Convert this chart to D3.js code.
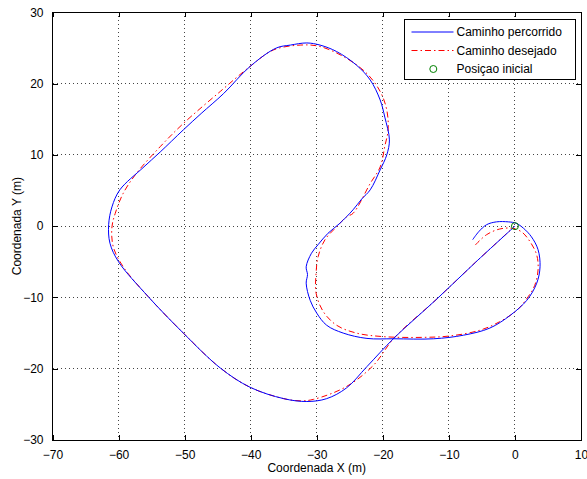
<!DOCTYPE html>
<html><head><meta charset="utf-8">
<script src="https://cdn.jsdelivr.net/npm/d3@7"></script>
<style>
html,body{margin:0;padding:0;background:#fff;}
text{font-family:"Liberation Sans",Arial,sans-serif;}
</style></head>
<body><svg id="c" width="587" height="479"></svg>
<script>
const xTicks = [-70,-60,-50,-40,-30,-20,-10,0,10];
const yTicks = [-30,-20,-10,0,10,20,30];
const xLabel = "Coordenada X (m)";
const yLabel = "Coordenada Y (m)";
const legendLabels = ["Caminho percorrido","Caminho desejado","Posiçao inicial"];

const percorridoX = [-6.4,-5.5,-4.3,-2.8,-1.0,0.2,1.3,2.5,3.5,3.8,3.3,1.8,-0.7,-3.8,-7.8,-12.3,-18.3,-22.4,-26.0,-28.5,-30.0,-31.0,-31.6,-31.4,-31.6,-30.8,-29.8,-28.3,-26.5,-24.5,-23.2,-21.9,-20.4,-19.4,-19.0,-19.7,-20.4,-21.9,-24.0,-27.0,-29.5,-31.5,-34.0,-36.1,-40.1,-44.1,-47.5,-50.2,-53.7,-56.3,-59.8,-61.0,-61.5,-61.3,-60.0,-55.5,-50.2,-44.6,-40.1,-35.0,-31.5,-28.5,-25.5,-22.4,-18.3,-11.8,-6.0,0.0];
const percorridoY = [-1.9,-0.8,0.2,0.6,0.6,0.4,-0.3,-1.5,-3.3,-5.7,-8.0,-10.4,-12.5,-14.3,-15.3,-15.8,-15.8,-15.75,-15.0,-13.9,-12.2,-10.4,-8.0,-6.8,-5.7,-3.8,-2.6,-1.0,0.4,2.3,3.8,5.1,7.9,10.0,12.1,15.3,17.7,20.5,22.6,24.5,25.4,25.7,25.4,25.0,22.4,18.6,15.8,13.5,10.4,8.2,5.1,2.7,0.2,-2.4,-5.0,-9.9,-15.0,-19.9,-22.6,-24.2,-24.6,-24.2,-22.7,-19.7,-15.7,-10.2,-5.1,0.0];

const desejadoX = [-6.0,-4.3,-2.3,-0.5,1.0,2.3,3.3,3.5,3.0,2.0,0.3,-2.3,-5.3,-9.8,-13.9,-19.9,-24.0,-27.0,-29.0,-30.1,-30.1,-29.8,-28.75,-27.0,-25.5,-24.5,-21.9,-20.4,-19.7,-19.2,-19.4,-20.4,-22.4,-25.5,-29.5,-32.5,-36.6,-40.1,-44.6,-50.2,-53.7,-57.3,-59.3,-60.5,-61.0,-60.8,-59.3,-55.5,-50.2,-44.6,-40.1,-35.0,-32.5,-30.5,-25.5,-21.4,-18.3,-11.8,-6.0,-0.5];
const desejadoY = [-2.65,-1.2,-0.4,-0.3,-0.8,-2.2,-4.05,-6.15,-8.3,-9.9,-11.8,-13.4,-14.6,-15.4,-15.6,-15.5,-15.0,-13.9,-12.0,-9.4,-6.6,-4.3,-1.9,-0.1,1.3,1.8,6.0,8.3,11.2,13.5,16.3,18.9,21.4,23.55,25.2,25.4,24.7,22.4,18.9,14.4,11.15,7.4,4.6,1.8,-0.1,-2.9,-5.7,-9.9,-15.0,-19.9,-22.6,-24.2,-24.5,-24.3,-22.5,-19.5,-15.7,-10.2,-5.1,-0.4];

const inicialX = [0];
const inicialY = [0];

const svg = d3.select("#c");
const L = 52.5, R = 581, T = 12.3, B = 440;
const x = d3.scaleLinear().domain([-70,10]).range([L,R]);
const y = d3.scaleLinear().domain([-30,30]).range([B,T]);

// grid
const g = svg.append("g");
g.selectAll(".gx").data(xTicks.slice(1,-1)).join("line")
  .attr("x1",d=>x(d)).attr("x2",d=>x(d)).attr("y1",T).attr("y2",B)
  .attr("stroke","#444").attr("stroke-width",1).attr("stroke-dasharray","1,3")
  .attr("shape-rendering","crispEdges");
g.selectAll(".gy").data(yTicks.slice(1,-1)).join("line")
  .attr("y1",d=>y(d)).attr("y2",d=>y(d)).attr("x1",L).attr("x2",R)
  .attr("stroke","#444").attr("stroke-width",1).attr("stroke-dasharray","1,3")
  .attr("shape-rendering","crispEdges");

// axes
const xa = svg.append("g").attr("transform",`translate(0,${B})`)
  .call(d3.axisBottom(x).tickValues(xTicks).tickSize(-5).tickPadding(10).tickFormat(d3.format("d")));
const xt = svg.append("g").attr("transform",`translate(0,${T})`)
  .call(d3.axisTop(x).tickValues(xTicks).tickSize(-5).tickFormat(""));
const ya = svg.append("g").attr("transform",`translate(${L},0)`)
  .call(d3.axisLeft(y).tickValues(yTicks).tickSize(-5).tickPadding(9).tickFormat(d3.format("d")));
const yr = svg.append("g").attr("transform",`translate(${R},0)`)
  .call(d3.axisRight(y).tickValues(yTicks).tickSize(-5).tickFormat(""));
[xa,xt,ya,yr].forEach(a=>{
  a.select(".domain").remove();
  a.selectAll("line").attr("stroke","#000").attr("shape-rendering","crispEdges");
  a.selectAll("text").attr("fill","#000").style("font-size","12px")
   .style("font-family","'Liberation Sans',Arial,sans-serif");
});
svg.append("rect").attr("x",L).attr("y",T).attr("width",R-L).attr("height",B-T)
  .attr("fill","none").attr("stroke","#000").attr("stroke-width",1).attr("shape-rendering","crispEdges");

// lines
const line = d3.line().x(d=>x(d[0])).y(d=>y(d[1])).curve(d3.curveCatmullRom.alpha(0.5));
const des = desejadoX.map((v,i)=>[v,desejadoY[i]]);
const per = percorridoX.map((v,i)=>[v,percorridoY[i]]);
svg.append("path").datum(des).attr("d",line).attr("fill","none")
  .attr("stroke","#ff0000").attr("stroke-width",1).attr("stroke-dasharray","6,3,1.5,3");
svg.append("path").datum(per).attr("d",line).attr("fill","none")
  .attr("stroke","#0000ff").attr("stroke-width",1);
svg.selectAll(".ini").data(inicialX.map((v,i)=>[v,inicialY[i]])).join("circle")
  .attr("cx",d=>x(d[0])).attr("cy",d=>y(d[1])).attr("r",3.5)
  .attr("fill","none").attr("stroke","#008000").attr("stroke-width",1);

// labels
svg.append("text").attr("x",(L+R)/2).attr("y",472).attr("text-anchor","middle")
  .style("font-size","12px").text(xLabel);
svg.append("text").attr("transform",`translate(21,${(T+B)/2}) rotate(-90)`).attr("text-anchor","middle")
  .style("font-size","12px").text(yLabel);

// legend
const lg = svg.append("g");
lg.append("rect").attr("x",404.5).attr("y",19.5).attr("width",171).attr("height",60)
  .attr("fill","#fff").attr("stroke","#000").attr("stroke-width",1);
const rows = [32,50.5,69];
lg.append("line").attr("x1",411.5).attr("x2",453.5).attr("y1",rows[0]).attr("y2",rows[0]).attr("stroke","#0000ff");
lg.append("line").attr("x1",411.5).attr("x2",453.5).attr("y1",rows[1]).attr("y2",rows[1]).attr("stroke","#ff0000").attr("stroke-dasharray","6,3,1.5,3");
lg.append("circle").attr("cx",433.3).attr("cy",rows[2]).attr("r",3.5).attr("fill","none").attr("stroke","#008000");
lg.selectAll(".lt").data(legendLabels).join("text").attr("x",456.5).attr("y",(d,i)=>rows[i]).attr("dy","0.35em")
  .style("font-size","12px").text(d=>d);
</script></body></html>
